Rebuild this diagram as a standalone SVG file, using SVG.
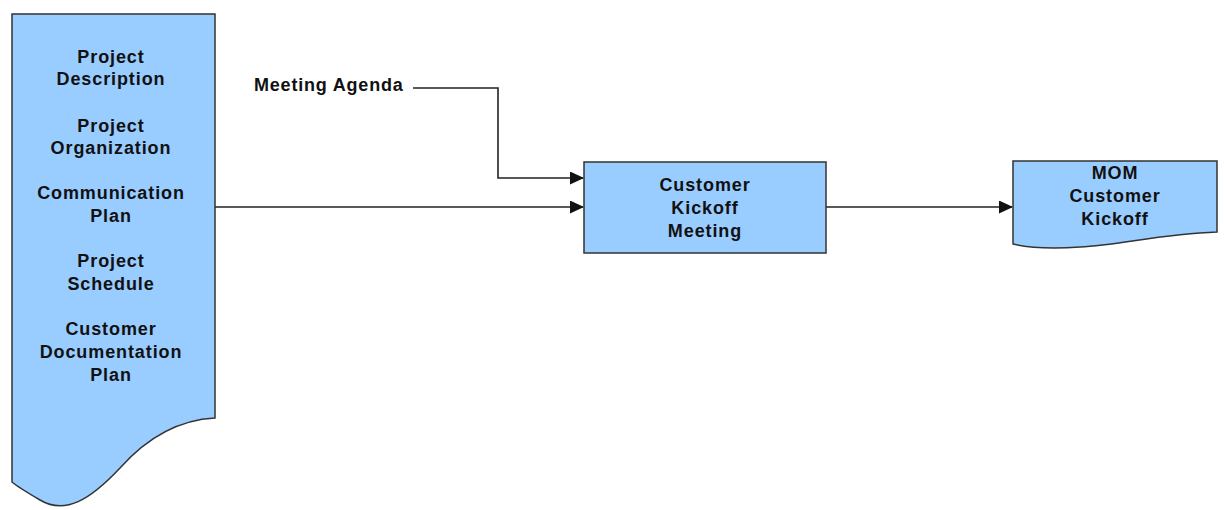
<svg xmlns="http://www.w3.org/2000/svg" width="1224" height="510" viewBox="0 0 1224 510">
<style>
.shape{fill:#99CCFF;stroke:#333;stroke-width:1.5}
.t{font-family:"Liberation Sans",Arial,sans-serif;font-weight:bold;font-size:18px;letter-spacing:0.9px;text-anchor:middle;fill:#111}
.lab{font-family:"Liberation Sans",Arial,sans-serif;font-weight:bold;font-size:18px;letter-spacing:0.8px;fill:#111}
.c{fill:none;stroke:#222;stroke-width:1.6}
</style>
<defs>
<marker id="ah" markerWidth="14" markerHeight="13" refX="13" refY="6.5" orient="auto" markerUnits="userSpaceOnUse">
<path d="M0,0 L14,6.5 L0,13 Z" fill="#111"/>
</marker>
</defs>
<g id="connectors">
<path class="c" d="M413,88 H498 V178 H583" marker-end="url(#ah)"/>
<path class="c" d="M215,207 H583" marker-end="url(#ah)"/>
<path class="c" d="M826,207 H1012" marker-end="url(#ah)"/>
</g>
<g id="inputs">
<path class="shape" d="M12,14 H215 V418 C175,420 145,440 120,468 C90,500 65,515 40,500 C28,493 18,487 12,482 Z"/>
<text class="t" x="111" y="63">Project</text>
<text class="t" x="111" y="85">Description</text>
<text class="t" x="111" y="132">Project</text>
<text class="t" x="111" y="154">Organization</text>
<text class="t" x="111" y="199">Communication</text>
<text class="t" x="111" y="222">Plan</text>
<text class="t" x="111" y="267">Project</text>
<text class="t" x="111" y="290">Schedule</text>
<text class="t" x="111" y="335">Customer</text>
<text class="t" x="111" y="358">Documentation</text>
<text class="t" x="111" y="381">Plan</text>
</g>
<g id="agenda">
<text class="lab" x="254" y="91">Meeting Agenda</text>
</g>
<g id="meeting">
<rect class="shape" x="584" y="162" width="242" height="91"/>
<text class="t" x="705" y="191">Customer</text>
<text class="t" x="705" y="214">Kickoff</text>
<text class="t" x="705" y="237">Meeting</text>
</g>
<g id="mom">
<path class="shape" d="M1013,161 H1217 V232 C1160,234 1120,245 1080,247 C1050,249 1030,248 1013,244 Z"/>
<text class="t" x="1115" y="179">MOM</text>
<text class="t" x="1115" y="202">Customer</text>
<text class="t" x="1115" y="225">Kickoff</text>
</g>
</svg>
